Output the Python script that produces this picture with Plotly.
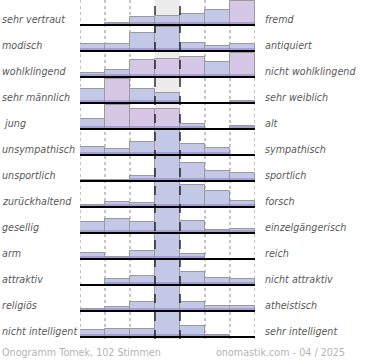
import plotly.graph_objects as go

# ---- data -------------------------------------------------------------
left_labels = ["sehr vertraut", "modisch", "wohlklingend", "sehr männlich", " jung",
               "unsympathisch", "unsportlich", "zurückhaltend", "gesellig", "arm",
               "attraktiv", "religiös", "nicht intelligent"]
right_labels = ["fremd", "antiquiert", "nicht wohlklingend", "sehr weiblich", "alt",
                "sympathisch", "sportlich", "forsch", "einzelgängerisch", "reich",
                "nicht attraktiv", "atheistisch", "sehr intelligent"]
scale_steps = [1, 2, 3, 4, 5, 6, 7]

row_vertraut = [0, 1.7, 7.7, 9, 11.3, 14.7, 24]
row_modisch = [6.7, 6.7, 17.7, 23.7, 8.3, 5.3, 6.7]
row_wohlklingend = [3.7, 6.7, 17.3, 17.7, 19.7, 14.7, 23.7]
row_maennlich = [14.4, 24, 14.4, 10.4, 0, 0, 2.4]
row_jung = [10.4, 24.4, 20.4, 19.7, 5, 0, 3]
row_sympathisch = [8, 5.7, 12.7, 26, 10.7, 6.7, 0.5]
row_sportlich = [1, 1, 5, 26, 18.3, 9.7, 7.7]
row_forsch = [2.4, 5, 4, 26, 22.4, 15.7, 6]
row_gesellig = [10.7, 14.4, 11.4, 26, 12, 3, 4]
row_arm = [6, 1.7, 7.7, 26, 5, 0, 0]
row_attraktiv = [0, 6, 9.3, 26, 12.7, 7.3, 6]
row_religioes = [1.7, 4, 8.7, 26, 9.3, 4.7, 4.7]
row_intelligent = [6.7, 8, 8, 26, 11, 1.7, 0]

rows = [row_vertraut, row_modisch, row_wohlklingend, row_maennlich, row_jung,
        row_sympathisch, row_sportlich, row_forsch, row_gesellig, row_arm,
        row_attraktiv, row_religioes, row_intelligent]

footer_left = "Onogramm Tomek, 102 Stimmen"
footer_right = "onomastik.com - 04 / 2025"

# ---- styling ----------------------------------------------------------
ROW_H = 26
N = len(rows)
pink_cells = {(0, 6), (2, 2), (2, 3), (2, 4), (2, 6), (3, 1), (4, 1), (4, 2), (4, 3)}
BLUE = "#c3c8e7"
PINK = "#d6c7e6"

xs, ys, bases, colors, band = [], [], [], [], []
for i, vals in enumerate(rows):
    b = (N - 1 - i) * ROW_H
    for j, v in enumerate(vals):
        xs.append(j)
        ys.append(v)
        bases.append(b)
        colors.append(PINK if (i, j) in pink_cells else BLUE)
        band.append(min(v, 3))

fig = go.Figure()
fig.add_trace(go.Bar(x=xs, y=ys, base=bases, width=1,
                     marker=dict(color=colors, line=dict(color="#9a9a9a", width=1)),
                     hoverinfo="skip"))
fig.add_trace(go.Bar(x=xs, y=band, base=bases, width=1,
                     marker=dict(color="rgba(140,128,196,0.55)", line=dict(width=0)),
                     hoverinfo="skip"))

top = (N - 1) * ROW_H + 25
bottom = -2
shapes = []
shapes.append(dict(type="rect", xref="x", yref="y", x0=2.5, x1=3.5, y0=bottom, y1=top + 2,
                   fillcolor="#ececec", line=dict(width=0), layer="below"))
for xv in [-0.5, 0.5, 1.5, 4.5, 5.5, 6.5]:
    shapes.append(dict(type="line", xref="x", yref="y", x0=xv, x1=xv, y0=bottom, y1=top + 2,
                       line=dict(color="#8a8a8a", width=1, dash="dot"), layer="below"))
for xv in [2.5, 3.5]:
    shapes.append(dict(type="line", xref="x", yref="y", x0=xv, x1=xv, y0=bottom, y1=top + 2,
                       line=dict(color="#111111", width=1.3, dash="dash"), layer="above"))
for i in range(N):
    b = (N - 1 - i) * ROW_H
    shapes.append(dict(type="line", xref="x", yref="y", x0=-0.5, x1=6.5, y0=b, y1=b,
                       line=dict(color="#000000", width=2), layer="above"))

W, H = 370, 360
annotations = []
lab_font = dict(family="DejaVu Sans", size=9.6, color="#5a5a5a", style="italic")
for i in range(N):
    b = (N - 1 - i) * ROW_H
    annotations.append(dict(text=left_labels[i], xref="paper", yref="y", x=0, y=b + 5.5,
                            xanchor="left", yanchor="middle", showarrow=False, font=lab_font))
    annotations.append(dict(text=right_labels[i], xref="paper", yref="y", x=263 / W, y=b + 5.5,
                            xanchor="left", yanchor="middle", showarrow=False, font=lab_font))
foot_font = dict(family="DejaVu Sans", size=9.6, color="#b4b4b4")
foot_y = top - 352
annotations.append(dict(text=footer_left, xref="paper", yref="y", x=0, y=foot_y,
                        xanchor="left", yanchor="middle", showarrow=False, font=foot_font))
annotations.append(dict(text=footer_right, xref="paper", yref="y", x=347 / W, y=foot_y,
                        xanchor="right", yanchor="middle", showarrow=False, font=foot_font))

fig.update_layout(
    width=W, height=H, margin=dict(l=0, r=0, t=0, b=0),
    paper_bgcolor="white", plot_bgcolor="rgba(0,0,0,0)",
    barmode="overlay", bargap=0, showlegend=False,
    xaxis=dict(domain=[80 / W, 255 / W], range=[-0.5, 6.5], visible=False, fixedrange=True),
    yaxis=dict(domain=[0, 1], range=[top - H, top], visible=False, fixedrange=True),
    shapes=shapes, annotations=annotations,
)
fig.write_html("out.html", config={"displayModeBar": False},
               post_script="document.body.style.margin='0';")
